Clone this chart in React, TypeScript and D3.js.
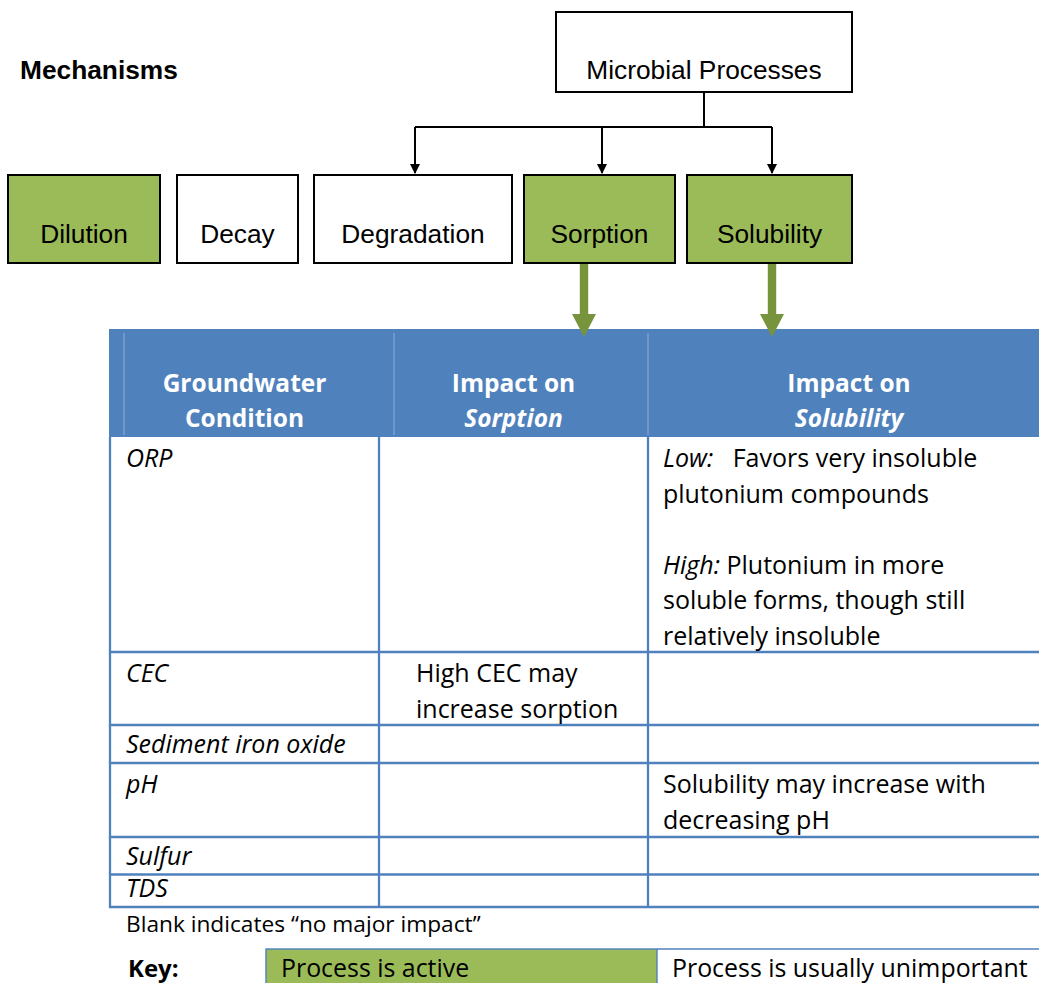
import React from "react";
import * as d3 from "d3";

// mechanism boxes (top row)
const mechanisms = ["Dilution", "Decay", "Degradation", "Sorption", "Solubility"];
const activeMechanisms = ["Dilution", "Sorption", "Solubility"];
const parentProcess = "Microbial Processes";
const microbialTargets = ["Degradation", "Sorption", "Solubility"];
const tableTargets = ["Sorption", "Solubility"];

// table content
const headerLines = [
  ["Groundwater", "Condition"],
  ["Impact on", "Sorption"],
  ["Impact on", "Solubility"],
];
const conditions = ["ORP", "CEC", "Sediment iron oxide", "pH", "Sulfur", "TDS"];
const sorptionImpact = [[], ["High CEC may", "increase sorption"], [], [], [], []];
const solubilityImpact = [
  ["Low:   Favors very insoluble", "plutonium compounds", "", "High: Plutonium in more", "soluble forms, though still", "relatively insoluble"],
  [],
  [],
  ["Solubility may increase with", "decreasing pH"],
  [],
  [],
];
const note = "Blank indicates \u201cno major impact\u201d";
const keyLabels = ["Key:", "Process is active", "Process is usually unimportant"];

// layout
const boxEdges: [number, number][] = [[8, 160], [177, 298], [314, 512], [524, 675], [687, 852]];
const colEdges = [110, 379, 648, 1050];
const colPad = [16, 37, 15];
const rowHeights = [215, 73, 38, 74, 37.5, 32.5];

const BLUE = "#4F81BD";
const GREEN = "#9BBB59";
const DARKGREEN = "#77933C";
const DIAG_FONT = "'Liberation Sans', Arial, sans-serif";
const TABLE_FONT = "'Open Sans', 'Noto Sans', sans-serif";

export default function App() {
  const W = 1039;
  const H = 983;

  const boxX = d3.scaleOrdinal<string, [number, number]>().domain(mechanisms).range(boxEdges);
  const boxTop = 175;
  const boxBottom = 263;
  const mid = (n: string) => (boxX(n)[0] + boxX(n)[1]) / 2;
  const arrowX: Record<string, number> = { Degradation: 415, Sorption: 602, Solubility: 772 };
  const greenX: Record<string, number> = { Sorption: 584, Solubility: 772 };

  const parent = { x0: 556, x1: 852, y0: 12, y1: 92 };
  const busY = 127;
  const stemX = 704;

  const headerTop = 329;
  const headerBottom = 437;
  const rowTops = [headerBottom, ...Array.from(d3.cumsum(rowHeights), (v) => headerBottom + v)];
  const tableBottom = rowTops[rowTops.length - 1];
  const lineH = 35.5;

  const renderLine = (line: string, x: number, y: number, key: string) => {
    const m = line.match(/^(Low:|High:)(.*)$/);
    if (m) {
      return (
        <text key={key} x={x} y={y} xmlSpace="preserve" style={{ whiteSpace: "pre" }}>
          <tspan fontStyle="italic">{m[1]}</tspan>
          <tspan>{m[2]}</tspan>
        </text>
      );
    }
    return (
      <text key={key} x={x} y={y}>
        {line}
      </text>
    );
  };

  const keyTop = 949;

  return (
    <svg width={W} height={H} style={{ position: "absolute", left: 0, top: 0 }}>
      <rect width={W} height={H} fill="#fff" />
      <defs>
        <marker id="ah" viewBox="0 0 10 10" refX="9" refY="5" markerWidth="10" markerHeight="10" markerUnits="userSpaceOnUse" orient="auto">
          <path d="M0,0L10,5L0,10Z" fill="#000" />
        </marker>
      </defs>

      {/* diagram */}
      <g fontFamily={DIAG_FONT} fontSize={26.3}>
        <text x={20} y={79} fontWeight="bold">Mechanisms</text>

        <rect x={parent.x0} y={parent.y0} width={parent.x1 - parent.x0} height={parent.y1 - parent.y0} fill="#fff" stroke="#000" strokeWidth={2} />
        <text x={(parent.x0 + parent.x1) / 2} y={79} textAnchor="middle">{parentProcess}</text>

        <line x1={stemX} y1={parent.y1} x2={stemX} y2={busY} stroke="#000" strokeWidth={2} />
        <line x1={d3.min(microbialTargets, (t) => arrowX[t])} y1={busY} x2={d3.max(microbialTargets, (t) => arrowX[t])} y2={busY} stroke="#000" strokeWidth={2} />
        {microbialTargets.map((t) => (
          <line key={t} x1={arrowX[t]} y1={busY} x2={arrowX[t]} y2={boxTop - 2} stroke="#000" strokeWidth={2} markerEnd="url(#ah)" />
        ))}

        {mechanisms.map((m) => {
          const [x0, x1] = boxX(m);
          return (
            <g key={m}>
              <rect x={x0} y={boxTop} width={x1 - x0} height={boxBottom - boxTop} fill={activeMechanisms.includes(m) ? GREEN : "#fff"} stroke="#000" strokeWidth={2} />
              <text x={mid(m)} y={243} textAnchor="middle">{m}</text>
            </g>
          );
        })}
      </g>

      {/* table header */}
      <rect x={109} y={headerTop} width={W - 109} height={headerBottom - headerTop} fill={BLUE} />
      {[124, 394, 648].map((x) => (
        <line key={x} x1={x} y1={333} x2={x} y2={435} stroke="#8FAEDA" strokeWidth={1} />
      ))}
      <g fontFamily={TABLE_FONT} fontSize={24.5} fontWeight="bold" fill="#fff" textAnchor="middle">
        {headerLines.map((hl, i) => {
          const cx = (colEdges[i] + colEdges[i + 1]) / 2;
          return (
            <g key={i}>
              <text x={cx} y={392}>{hl[0]}</text>
              <text x={cx} y={427} fontStyle={i > 0 ? "italic" : "normal"}>{hl[1]}</text>
            </g>
          );
        })}
      </g>

      {/* green arrows into table */}
      {tableTargets.map((t) => {
        const cx = greenX[t];
        const headTop = 314;
        const tip = 337;
        const pts = [
          [cx - 4.2, boxBottom + 1],
          [cx + 4.2, boxBottom + 1],
          [cx + 4.2, headTop],
          [cx + 12, headTop],
          [cx, tip],
          [cx - 12, headTop],
          [cx - 4.2, headTop],
        ];
        return <polygon key={t} points={pts.map((p) => p.join(",")).join(" ")} fill={DARKGREEN} />;
      })}

      {/* table body */}
      <g stroke={BLUE} strokeWidth={2.3}>
        {colEdges.slice(0, 3).map((x) => (
          <line key={x} x1={x} y1={headerBottom} x2={x} y2={tableBottom + 1} />
        ))}
        {rowTops.slice(1).map((y) => (
          <line key={y} x1={109} y1={y} x2={W} y2={y} />
        ))}
      </g>

      <g fontFamily={TABLE_FONT} fontSize={25} fill="#000">
        {conditions.map((c, r) => {
          const top = rowTops[r];
          const base = top + Math.min(30, rowHeights[r] - 10);
          return (
            <g key={c}>
              <text x={colEdges[0] + colPad[0]} y={base} fontStyle="italic">{c}</text>
              {sorptionImpact[r].map((l, j) => renderLine(l, colEdges[1] + colPad[1], base + j * lineH, `s${j}`))}
              {solubilityImpact[r].map((l, j) => renderLine(l, colEdges[2] + colPad[2], base + j * lineH, `o${j}`))}
            </g>
          );
        })}
      </g>

      <text x={126} y={932} fontFamily={TABLE_FONT} fontSize={22.7}>{note}</text>

      {/* key */}
      <text x={128} y={977} fontFamily={TABLE_FONT} fontSize={24} fontWeight="bold">{keyLabels[0]}</text>
      <rect x={266} y={keyTop} width={391} height={50} fill={GREEN} stroke={BLUE} strokeWidth={1.4} />
      <line x1={657} y1={keyTop} x2={W} y2={keyTop} stroke={BLUE} strokeWidth={1.4} />
      <text x={281} y={977} fontFamily={TABLE_FONT} fontSize={24.9}>{keyLabels[1]}</text>
      <text x={672} y={977} fontFamily={TABLE_FONT} fontSize={24.9}>{keyLabels[2]}</text>
    </svg>
  );
}
